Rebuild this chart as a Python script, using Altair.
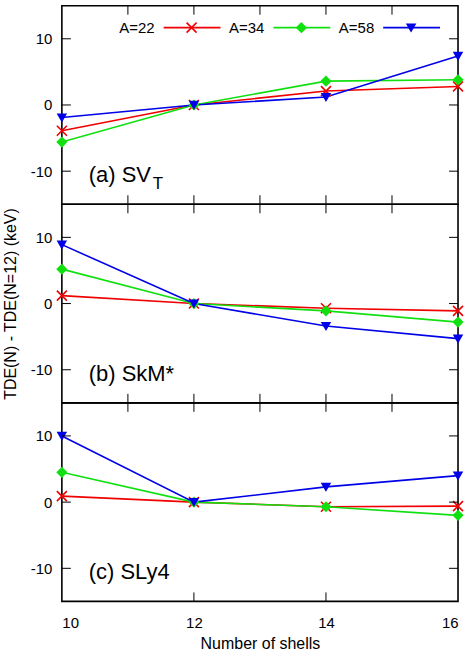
import altair as alt
import pandas as pd

# Number of oscillator shells and the three mass numbers
shells = [10, 12, 14, 16]
series_names = ["A=22", "A=34", "A=58"]
series_colors = ["#f00000", "#10e010", "#0000e8"]

# TDE(N) - TDE(N=12) in keV
svt_a22 = [-3.9, 0.0, 2.1, 2.8]
svt_a34 = [-5.6, 0.0, 3.6, 3.8]
svt_a58 = [-1.9, 0.0, 1.2, 7.4]

skm_a22 = [1.2, 0.0, -0.7, -1.1]
skm_a34 = [5.2, 0.0, -1.1, -2.8]
skm_a58 = [8.9, 0.0, -3.4, -5.3]

sly4_a22 = [0.9, 0.0, -0.7, -0.6]
sly4_a34 = [4.5, 0.0, -0.7, -2.0]
sly4_a58 = [10.0, 0.0, 2.3, 4.0]

panel_labels = [("(a) SV", "T"), ("(b) SkM*", ""), ("(c) SLy4", "")]
y_ticks = [-10, 0, 10]
x_major = [10, 12, 14, 16]
x_minor = [11, 12, 13, 14, 15]

W, H = 397, 199
FONT = "Liberation Sans"
X_PATH = "M-1,-1L1,1M-1,1L1,-1"
Y_TITLE = "TDE(N) - TDE(N=12) (keV)"
PLAIN_LABEL = "datum.value + ''"

color_scale = alt.Scale(domain=series_names, range=series_colors)
shape_scale = alt.Scale(domain=series_names, range=[X_PATH, "diamond", "triangle-down"])
size_scale = alt.Scale(domain=series_names, range=[100, 60, 110])
x_scale = alt.Scale(domain=[10, 16], nice=False, zero=False)
y_scale = alt.Scale(domain=[-15, 15], nice=False, zero=False)


def frame(values_by_series):
    rows = []
    for name, vals in zip(series_names, values_by_series):
        for n, v in zip(shells, vals):
            rows.append({"N": n, "TDE": v, "series": name})
    return pd.DataFrame(rows)


def panel(values_by_series, label, sub, bottom, show_title, legend):
    df = frame(values_by_series)

    if bottom:
        x_axis = alt.Axis(values=x_major, labelExpr=PLAIN_LABEL, tickSize=0,
                          domain=False, grid=False, labelPadding=14,
                          title="Number of shells", titlePadding=5,
                          titleFontSize=16, titleFontWeight="normal")
    else:
        x_axis = None
    y_axis = alt.Axis(values=y_ticks, labelExpr=PLAIN_LABEL, tickSize=0, domain=False,
                      grid=False, labelPadding=10, title=Y_TITLE, titlePadding=12,
                      titleFontSize=16, titleFontWeight="normal",
                      titleOpacity=1 if show_title else 0)

    base = alt.Chart(df).encode(
        x=alt.X("N:Q", scale=x_scale, axis=x_axis),
        y=alt.Y("TDE:Q", scale=y_scale, axis=y_axis),
        color=alt.Color("series:N", scale=color_scale, legend=None),
    )
    lines = base.mark_line(strokeWidth=1.6).encode(order="N:Q")
    points = base.mark_point(filled=True, strokeWidth=1.6, opacity=1).encode(
        shape=alt.Shape("series:N", scale=shape_scale, legend=None),
        size=alt.Size("series:N", scale=size_scale, legend=None),
        fill=alt.Fill("series:N", scale=color_scale, legend=None),
        stroke=alt.Stroke("series:N", scale=color_scale, legend=None),
    )

    # inward tick marks on all four sides
    yt = pd.DataFrame({"v": y_ticks})
    left_ticks = alt.Chart(yt).mark_rule(color="black", strokeWidth=1).encode(
        y=alt.Y("v:Q", scale=y_scale), x=alt.value(0), x2=alt.value(9))
    right_ticks = alt.Chart(yt).mark_rule(color="black", strokeWidth=1).encode(
        y=alt.Y("v:Q", scale=y_scale), x=alt.value(W - 9), x2=alt.value(W))
    top_ticks = alt.Chart(pd.DataFrame({"v": x_minor})).mark_rule(
        color="black", strokeWidth=1).encode(
        x=alt.X("v:Q", scale=x_scale), y=alt.value(0), y2=alt.value(9))
    bottom_vals = [12, 14] if bottom else x_minor
    bottom_ticks = alt.Chart(pd.DataFrame({"v": bottom_vals})).mark_rule(
        color="black", strokeWidth=1).encode(
        x=alt.X("v:Q", scale=x_scale), y=alt.value(H - 9), y2=alt.value(H))

    one = pd.DataFrame({"k": [0]})
    label_text = alt.Chart(one).mark_text(
        align="left", baseline="alphabetic", font=FONT, fontSize=22, color="black"
    ).encode(x=alt.value(27), y=alt.value(177), text=alt.value(label))

    layers = [lines, points, left_ticks, right_ticks, top_ticks, bottom_ticks, label_text]

    if sub:
        sub_text = alt.Chart(one).mark_text(
            align="left", baseline="alphabetic", font=FONT, fontSize=17, color="black"
        ).encode(x=alt.value(91), y=alt.value(184), text=alt.value(sub))
        layers.append(sub_text)

    if legend:
        per_unit = W / 6.0
        leg = pd.DataFrame({
            "series": series_names,
            "tx": [10 + (93 + 110 * i) / per_unit for i in range(3)],
            "lx": [10 + (102 + 110 * i) / per_unit for i in range(3)],
            "lx2": [10 + (159 + 110 * i) / per_unit for i in range(3)],
            "mx": [10 + (130 + 110 * i) / per_unit for i in range(3)],
        })
        leg_base = alt.Chart(leg)
        leg_text = leg_base.mark_text(
            align="right", baseline="middle", font=FONT, fontSize=15, color="black"
        ).encode(x=alt.X("tx:Q", scale=x_scale), y=alt.value(22), text="series:N")
        leg_line = leg_base.mark_rule(strokeWidth=1.6).encode(
            x=alt.X("lx:Q", scale=x_scale), x2="lx2:Q", y=alt.value(22),
            color=alt.Color("series:N", scale=color_scale, legend=None))
        leg_pts = leg_base.mark_point(filled=True, strokeWidth=1.6, opacity=1).encode(
            x=alt.X("mx:Q", scale=x_scale), y=alt.value(22),
            shape=alt.Shape("series:N", scale=shape_scale, legend=None),
            size=alt.Size("series:N", scale=size_scale, legend=None),
            fill=alt.Fill("series:N", scale=color_scale, legend=None),
            stroke=alt.Stroke("series:N", scale=color_scale, legend=None))
        layers += [leg_line, leg_pts, leg_text]

    return alt.layer(*layers).properties(width=W, height=H)


top = panel([svt_a22, svt_a34, svt_a58], *panel_labels[0], bottom=False, show_title=False, legend=True)
mid = panel([skm_a22, skm_a34, skm_a58], *panel_labels[1], bottom=False, show_title=True, legend=False)
low = panel([sly4_a22, sly4_a34, sly4_a58], *panel_labels[2], bottom=True, show_title=False, legend=False)

chart = alt.vconcat(top, mid, low, spacing=0, bounds="flush").properties(
    padding={"left": 1, "top": 3, "right": 0, "bottom": 0},
    background="white",
).configure_view(
    stroke="black", strokeWidth=1.6
).configure_axis(
    labelFont=FONT, labelFontSize=15, labelColor="black",
    titleFont=FONT, titleFontSize=15, titleColor="black",
)

chart.save("out.html", embed_options={"renderer": "svg", "actions": False})
